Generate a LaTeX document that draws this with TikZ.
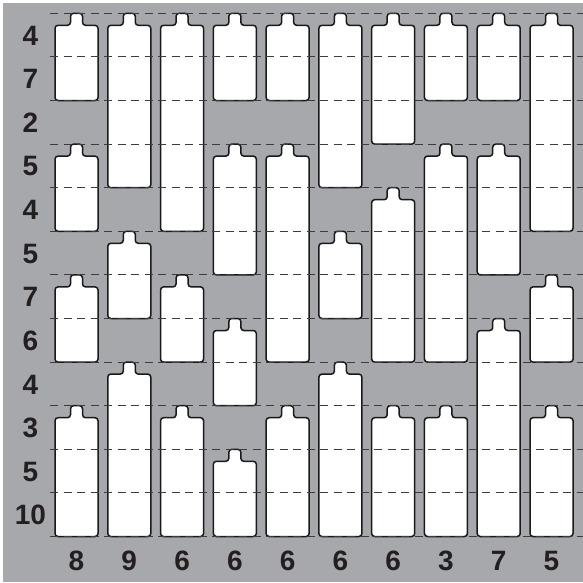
\documentclass[tikz,border=0pt]{standalone}
\usepackage{fontspec}
\setmainfont{Liberation Sans}
\definecolor{bggray}{RGB}{167,168,172}
\definecolor{dashgray}{RGB}{60,60,62}
\definecolor{txt}{RGB}{35,31,32}
\newcommand\bottle[3]{%
  \pgfmathsetmacro\bxL{55+52.78*(#1-1)}%
  \pgfmathsetmacro\bxR{\bxL+43}%
  \pgfmathsetmacro\bxC{\bxL+21.5}%
  \pgfmathsetmacro\byT{13.3+43.6*(#2-1)}%
  \pgfmathsetmacro\byS{\byT+12}%
  \pgfmathsetmacro\byB{13.3+43.6*#3}%
  \draw[bottleline] (\bxL,\byS+20) -- (\bxL,\byS) -- (\bxC-6,\byS) -- (\bxC-6,\byT) -- (\bxC+6,\byT) -- (\bxC+6,\byS) -- (\bxR,\byS) -- (\bxR,\byB) -- (\bxL,\byB) -- cycle;%
}
\begin{document}
\begin{tikzpicture}[x=1pt,y=-1pt,
  bottleline/.style={draw=black!90,fill=white,line width=1.5pt,rounded corners=3pt},
  guide/.style={draw=dashgray,line width=1pt,dash pattern=on 8pt off 5.5pt},
  lbl/.style={font=\fontsize{28}{32}\selectfont\bfseries,text=txt,inner sep=0pt}]
\useasboundingbox (0,0) rectangle (583,582);
\fill[bggray] (3,2.5) rectangle (583,582);
% bottles
\foreach \c/\a/\b in {1/1/2,1/4/5,1/7/8,1/10/12,
  2/1/4,2/6/7,2/9/12,
  3/1/5,3/7/8,3/10/12,
  4/1/2,4/4/6,4/8/9,4/11/12,
  5/1/2,5/4/8,5/10/12,
  6/1/4,6/6/7,6/9/12,
  7/1/3,7/5/8,7/10/12,
  8/1/2,8/4/8,8/10/12,
  9/1/2,9/4/6,9/8/12,
  10/1/5,10/7/8,10/10/12}{\bottle{\c}{\a}{\b}}
% guides
\foreach \k in {0,...,12}{\draw[guide] (50,13.3+43.6*\k) -- (583,13.3+43.6*\k);}
% row labels
\foreach \t [count=\i] in {4,7,2,5,4,5,7,6,4,3,5,10}{
  \node[lbl] (r\i) at (30.5,35.6+43.6*\i-43.6) {\t};}
% column labels
\foreach \t [count=\i] in {8,9,6,6,6,6,6,3,7,5}{
  \node[lbl] (c\i) at (76.5+52.78*\i-52.78,561) {\t};}
\end{tikzpicture}
\end{document}
